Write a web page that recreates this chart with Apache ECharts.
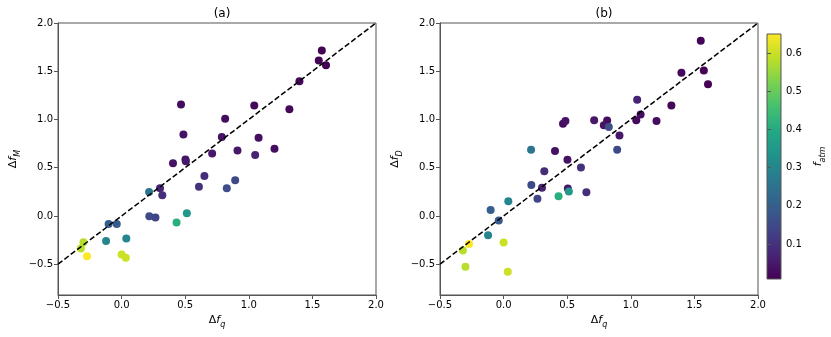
<!DOCTYPE html>
<html>
<head>
<meta charset="utf-8">
<script src="https://cdn.jsdelivr.net/npm/echarts@6/dist/echarts.min.js"></script>
<style>
  html, body { margin: 0; padding: 0; background: #fff; }
  #chart { width: 831px; height: 337px; }
</style>
</head>
<body>
<div id="chart"></div>
<script>
// Δf_q shared by both panels
const dfq = [1.574, 1.55, 1.607, 1.398, 0.467, 1.043, 1.319, 0.814, 0.486, 0.788,
  1.077, 0.911, 1.202, 0.712, 1.05, 0.502, 0.505, 0.404, 0.651, 0.893,
  0.608, 0.827, 0.216, 0.302, 0.32, 0.218, 0.266, 0.513, 0.432, -0.102,
  -0.038, -0.122, 0.037, -0.3, -0.32, -0.272, 0.0, 0.033]
// panel (a)
const dfM = [1.714, 1.61, 1.562, 1.397, 1.155, 1.145, 1.107, 1.007, 0.845, 0.817,
  0.81, 0.679, 0.697, 0.648, 0.631, 0.586, 0.566, 0.545, 0.414, 0.369,
  0.303, 0.286, 0.248, 0.286, 0.214, -0.003, -0.017, 0.028, -0.069, -0.083,
  -0.083, -0.259, -0.234, -0.272, -0.338, -0.417, -0.4, -0.434]
// panel (b)
const dfD = [1.507, 1.817, 1.366, 1.483, 0.955, 0.993, 1.145, 0.99, 0.983, 0.941,
  1.052, 0.834, 0.983, 0.993, 1.203, 0.583, 0.283, 0.672, 0.245, 0.686,
  0.503, 0.921, 0.686, 0.293, 0.462, 0.321, 0.179, 0.252, 0.203, 0.062,
  -0.048, -0.2, 0.152, -0.528, -0.359, -0.29, -0.276, -0.579]
// colour value
const fatm = [0.01, 0.015, 0.01, 0.02, 0.03, 0.02, 0.02, 0.03, 0.04, 0.04,
  0.03, 0.05, 0.03, 0.05, 0.07, 0.04, 0.05, 0.04, 0.09, 0.15,
  0.1, 0.16, 0.26, 0.07, 0.09, 0.15, 0.14, 0.35, 0.41, 0.2,
  0.19, 0.3, 0.3, 0.58, 0.58, 0.65, 0.6, 0.6]

const axisTicks = [-0.5, 0, 0.5, 1, 1.5, 2]
const cbarTicks = [0.1, 0.2, 0.3, 0.4, 0.5, 0.6]
const diagonal = [[-0.5, -0.5], [2, 2]]
const fMin = 0.008
const fMax = 0.651

const viridis = ['#440154', '#482475', '#414487', '#355f8d', '#2a788e', '#21918c',
  '#22a884', '#44bf70', '#7ad151', '#bddf26', '#fde725']

const FONT = 'DejaVu Sans'
const frame = '#555'
const fmt = v => (v < 0 ? '\u2212' : '') + Math.abs(v).toFixed(1)

const rich = {
  d: { fontFamily: FONT, fontSize: 11, color: '#000', verticalAlign: 'top' },
  f: { fontFamily: FONT, fontSize: 11, color: '#000', fontStyle: 'italic', verticalAlign: 'top' },
  s: { fontFamily: FONT, fontSize: 8, color: '#000', fontStyle: 'italic', verticalAlign: 'top', padding: [6, 0, 0, 0] }
}

const makeX = (gridIndex) => ({
  type: 'value', gridIndex, min: -0.5, max: 2,
  name: '{d|Δ}{f|f}{s|q}', nameLocation: 'middle', nameGap: 16,
  nameTextStyle: { rich },
  axisLine: { onZero: false, lineStyle: { color: frame } },
  axisTick: { length: 4, lineStyle: { color: frame }, customValues: axisTicks },
  axisLabel: { fontFamily: FONT, fontSize: 10, color: '#000', margin: 5, customValues: axisTicks, formatter: fmt },
  splitLine: { show: false }
})

const makeY = (gridIndex, sub) => ({
  type: 'value', gridIndex, min: -0.82, max: 2,
  name: '{d|Δ}{f|f}{s|' + sub + '}', nameLocation: 'middle', nameGap: 36, nameRotate: 90,
  nameTextStyle: { rich },
  axisLine: { onZero: false, lineStyle: { color: frame } },
  axisTick: { length: 4, lineStyle: { color: frame }, customValues: axisTicks },
  axisLabel: { fontFamily: FONT, fontSize: 10, color: '#000', margin: 5, customValues: axisTicks, formatter: fmt },
  splitLine: { show: false }
})

const pointsM = dfq.map((x, i) => [x, dfM[i], fatm[i]])
const pointsD = dfq.map((x, i) => [x, dfD[i], fatm[i]])

const chart = echarts.init(document.getElementById('chart'))

const option = {
  backgroundColor: '#fff',
  animation: false,
  title: [
    { text: '(a)', left: 217, top: 3, textAlign: 'center', textStyle: { fontFamily: FONT, fontSize: 12, fontWeight: 'normal', color: '#000' } },
    { text: '(b)', left: 599, top: 3, textAlign: 'center', textStyle: { fontFamily: FONT, fontSize: 12, fontWeight: 'normal', color: '#000' } }
  ],
  grid: [
    { left: 58, top: 23, width: 318, height: 272, show: true, borderColor: frame, borderWidth: 1 },
    { left: 440, top: 23, width: 318, height: 272, show: true, borderColor: frame, borderWidth: 1 },
    { left: 767, top: 34, width: 14, height: 245 }
  ],
  xAxis: [
    makeX(0),
    makeX(1),
    { type: 'value', gridIndex: 2, min: 0, max: 1, show: false }
  ],
  yAxis: [
    makeY(0, 'M'),
    makeY(1, 'D'),
    {
      type: 'value', gridIndex: 2, min: fMin, max: fMax, position: 'right',
      name: '{f|f}{s|atm}', nameLocation: 'middle', nameGap: 32, nameRotate: 90,
      nameTextStyle: { rich },
      axisLine: { show: false },
      axisTick: { length: 4, lineStyle: { color: frame }, customValues: cbarTicks },
      axisLabel: { fontFamily: FONT, fontSize: 10, color: '#000', margin: 5, customValues: cbarTicks, formatter: v => v.toFixed(1) },
      splitLine: { show: false }
    }
  ],
  visualMap: {
    type: 'continuous', show: false, min: fMin, max: fMax, dimension: 2,
    seriesIndex: [0, 2],
    inRange: { color: viridis }
  },
  graphic: [{
    type: 'rect', z: -1,
    shape: { x: 767, y: 34, width: 14, height: 245 },
    style: {
      stroke: frame, lineWidth: 1,
      fill: new echarts.graphic.LinearGradient(0, 1, 0, 0,
        viridis.map((c, i) => ({ offset: i / (viridis.length - 1), color: c })))
    }
  }],
  series: [
    { type: 'scatter', xAxisIndex: 0, yAxisIndex: 0, symbolSize: 8, data: pointsM, z: 2, itemStyle: { opacity: 1 } },
    { type: 'line', xAxisIndex: 0, yAxisIndex: 0, data: diagonal, symbol: 'none', z: 3,
      lineStyle: { color: '#000', width: 1.5, type: [5.5, 2.5] } },
    { type: 'scatter', xAxisIndex: 1, yAxisIndex: 1, symbolSize: 8, data: pointsD, z: 2, itemStyle: { opacity: 1 } },
    { type: 'line', xAxisIndex: 1, yAxisIndex: 1, data: diagonal, symbol: 'none', z: 3,
      lineStyle: { color: '#000', width: 1.5, type: [5.5, 2.5] } }
  ]
}

chart.setOption(option)
</script>
</body>
</html>
